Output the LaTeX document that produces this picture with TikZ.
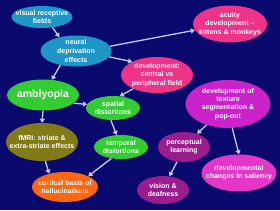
\documentclass[tikz,border=0pt]{standalone}
\usepackage{fontspec}
\setmainfont{Liberation Sans}
\usetikzlibrary{arrows.meta,shapes.geometric}
\definecolor{mapnavy}{HTML}{0A0A6E}
\definecolor{mapcyan}{HTML}{1E96C8}
\definecolor{mappink}{HTML}{EE3388}
\definecolor{mapgreen}{HTML}{33CC33}
\definecolor{mapolive}{HTML}{827A16}
\definecolor{maporange}{HTML}{FF6611}
\definecolor{mapmagenta}{HTML}{CC22CC}
\definecolor{mappurple}{HTML}{9A1C8E}
\definecolor{mapfuchsia}{HTML}{E636C8}
\definecolor{maplink}{HTML}{C8C8F2}

\begin{document}
\begin{tikzpicture}[x=1pt, y=1pt, font=\bfseries\fontsize{7}{8.3}\selectfont,
    blob/.style={ellipse, draw=none, inner sep=0pt},
    txt/.style={text=white, align=center, inner sep=0pt},
    link/.style={draw=maplink, line width=1.3pt, -{Triangle[length=4pt, width=5pt]}},
  ]
  % background, also fixes the page size
  \fill[mapnavy] (0, 0) rectangle (280, 210);

  % upper left: receptive fields and deprivation
  \node[blob, fill=mapcyan, minimum width=61pt, minimum height=22pt,
    label={[txt]center:visual receptive\\fields}] (fields) at (42, 193) {};
  \node[blob, fill=mapcyan, minimum width=71pt, minimum height=31pt,
    label={[txt, font=\bfseries\fontsize{7}{9}\selectfont]center:neural\\deprivation\\effects}] (deprivation) at (76, 159) {};

  % development branch
  \node[blob, fill=mappink, minimum width=74pt, minimum height=37pt,
    label={[txt]center:acuity\\development --\\kittens \& monkeys}] (acuity) at (230, 186) {};
  \node[blob, fill=mappink, minimum width=72pt, minimum height=36pt,
    label={[txt]center:development:\\central vs\\peripheral field}] (periphery) at (157, 135) {};

  % amblyopia and distortions
  \node[blob, fill=mapgreen, minimum width=72pt, minimum height=31pt,
    label={[txt, font=\bfseries\fontsize{10.5}{12}\selectfont]center:amblyopia}] (amblyopia) at (43, 115) {};
  \node[blob, fill=mapgreen, minimum width=54pt, minimum height=24pt,
    label={[txt]center:spatial\\distortions}] (spatial) at (113, 102) {};
  \node[blob, fill=mapgreen, minimum width=54pt, minimum height=24pt,
    label={[txt]center:temporal\\distortions}] (temporal) at (121, 63) {};
  \node[blob, fill=mapolive, minimum width=72pt, minimum height=38pt,
    label={[txt]center:fMRI: striate \&\\extra-striate effects}] (fmri) at (42, 68) {};
  \node[blob, fill=maporange, minimum width=66pt, minimum height=30pt,
    label={[txt]center:cortical basis of\\hallucinations}] (hallucinations) at (65, 23) {};

  % texture branch
  \node[blob, fill=mapmagenta, minimum width=85pt, minimum height=48pt,
    label={[txt]center:development of\\texture\\segmentation \&\\pop-out}] (texture) at (228, 106) {};
  \node[blob, fill=mappurple, minimum width=52pt, minimum height=30pt,
    label={[txt]center:perceptual\\learning}] (learning) at (184, 63) {};
  \node[blob, fill=mappurple, minimum width=52pt, minimum height=28pt,
    label={[txt]center:vision \&\\deafness}] (deafness) at (163, 20) {};
  \node[blob, fill=mapfuchsia, minimum width=75pt, minimum height=37pt,
    label={[txt]center:developmental\\changes in saliency}] (saliency) at (239, 37) {};

  % connectors
  \draw[link] (fields.-45) -- (deprivation.140);
  \draw[link] (deprivation.8) -- (acuity.190);
  \draw[link] (deprivation.-10) -- (periphery.152);
  \draw[link] (deprivation.-138) -- (amblyopia.60);
  \draw[link] (amblyopia.-15) -- (spatial.172);
  \draw[link] (periphery.-150) -- (spatial.60);
  \draw[link] (amblyopia.-90) -- (fmri.90);
  \draw[link] (spatial.-100) -- (temporal.110);
  \draw[link] (fmri.-80) -- (hallucinations.140);
  \draw[link] (temporal.-130) -- (hallucinations.25);
  \draw[link] (texture.-136) -- (learning.45);
  \draw[link] (texture.-80) -- (saliency.90);
  \draw[link] (learning.-115) -- (deafness.65);
\end{tikzpicture}
\end{document}
